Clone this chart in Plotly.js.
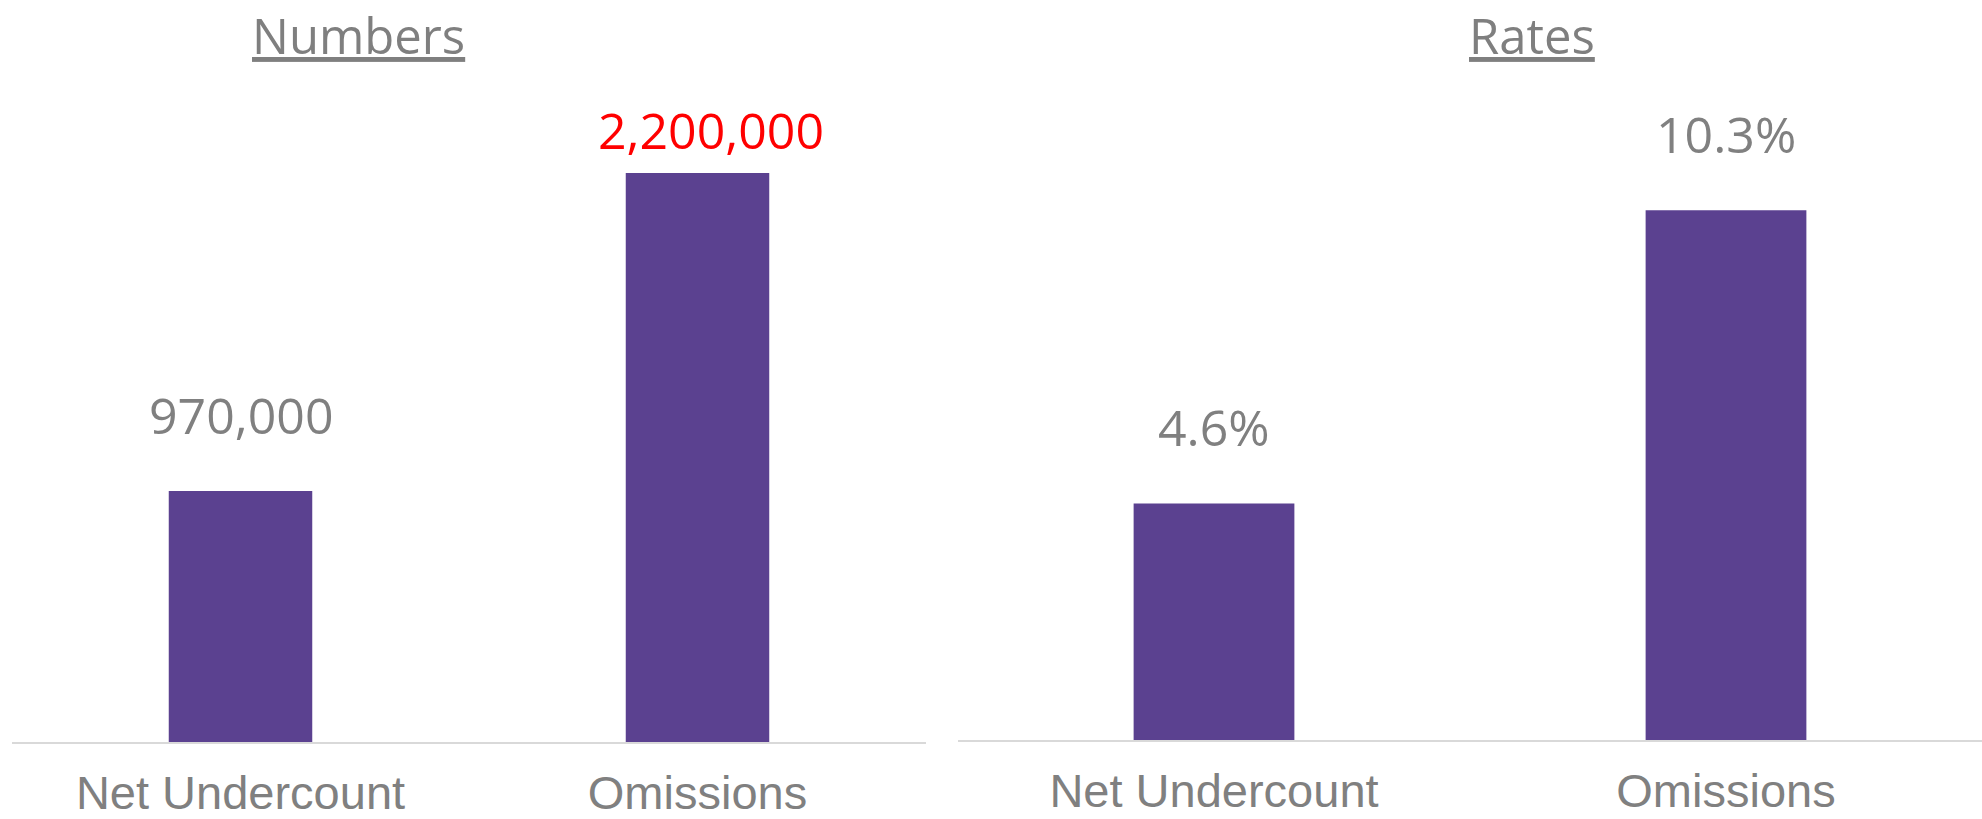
<!DOCTYPE html>
<html>
<head>
<meta charset="utf-8">
<script src="https://cdn.plot.ly/plotly-3.0.1.min.js"></script>
<style>
  html, body { margin: 0; padding: 0; background: #ffffff; }
  #chart { width: 1982px; height: 819px; }
</style>
</head>
<body>
<div id="chart"></div>
<script>
// ---- data ----
const categories = ["Net Undercount", "Omissions"];
const numbersValues = [970000, 2200000];
const numbersLabels = ["970,000", "2,200,000"];
const ratesValues = [4.6, 10.3];
const ratesLabels = ["4.6%", "10.3%"];
const panelTitles = ["Numbers", "Rates"];

// ---- styles ----
const barColor = "#5B4190";
const grey = "#808080";
const W = 1982, H = 819;

const traces = [
  {
    type: "bar", x: categories, y: numbersValues, xaxis: "x", yaxis: "y",
    marker: { color: barColor, line: { width: 0 } }, hoverinfo: "none"
  },
  {
    type: "bar", x: categories, y: ratesValues, xaxis: "x2", yaxis: "y2",
    marker: { color: barColor, line: { width: 0 } }, hoverinfo: "none"
  }
];

const axisX = {
  type: "category", showgrid: false, zeroline: false,
  showline: true, linecolor: "#d9d9d9", linewidth: 2,
  ticks: "outside", ticklen: 9, tickcolor: "rgba(0,0,0,0)",
  tickfont: { family: "Liberation Sans, Arial, sans-serif", size: 47, color: grey },
  automargin: false, fixedrange: true
};
const axisY = { showgrid: false, zeroline: false, showline: false, showticklabels: false, ticks: "", fixedrange: true };

const annotations = [];
const labelFont = { family: "Open Sans, sans-serif", size: 50, color: grey };
const labelShifts = [[40, 7], [40, 40]];
const labelXShifts = [[0, 13], [0, 0]];
const labelColors = [[grey, "#FF0000"], [grey, grey]];
[[numbersValues, numbersLabels, "x", "y"], [ratesValues, ratesLabels, "x2", "y2"]].forEach((p, pi) => {
  p[0].forEach((v, i) => {
    annotations.push({
      xref: p[2], yref: p[3], x: categories[i], y: v,
      text: p[1][i], showarrow: false, xanchor: "center", yanchor: "bottom",
      yshift: labelShifts[pi][i], xshift: labelXShifts[pi][i],
      font: Object.assign({}, labelFont, { color: labelColors[pi][i] })
    });
  });
});
const titleX = [358 / W, 1532 / W];
panelTitles.forEach((t, i) => {
  annotations.push({
    xref: "paper", yref: "paper", x: titleX[i], y: 1,
    xanchor: "center", yanchor: "top", showarrow: false,
    text: "<u>" + t + "</u>",
    font: { family: "Open Sans, sans-serif", size: 49, color: "#7f7f7f" }
  });
});

const layout = {
  width: W, height: H,
  margin: { l: 0, r: 0, t: 0, b: 0, pad: 0 },
  paper_bgcolor: "#ffffff", plot_bgcolor: "#ffffff",
  showlegend: false, bargap: 0.686, hovermode: false,
  xaxis: Object.assign({}, axisX, { domain: [12 / W, 926 / W], anchor: "y" }),
  xaxis2: Object.assign({}, axisX, { domain: [958 / W, 1], anchor: "y2" }),
  yaxis: Object.assign({}, axisY, { domain: [(H - 742) / H, 1], range: [0, 2200000 * 742 / 569], anchor: "x" }),
  yaxis2: Object.assign({}, axisY, { domain: [(H - 740) / H, 1], range: [0, 10.3 * 740 / 529.7], anchor: "x2" }),
  annotations: annotations
};

Plotly.newPlot("chart", traces, layout, { displayModeBar: false, staticPlot: true });
</script>
</body>
</html>
